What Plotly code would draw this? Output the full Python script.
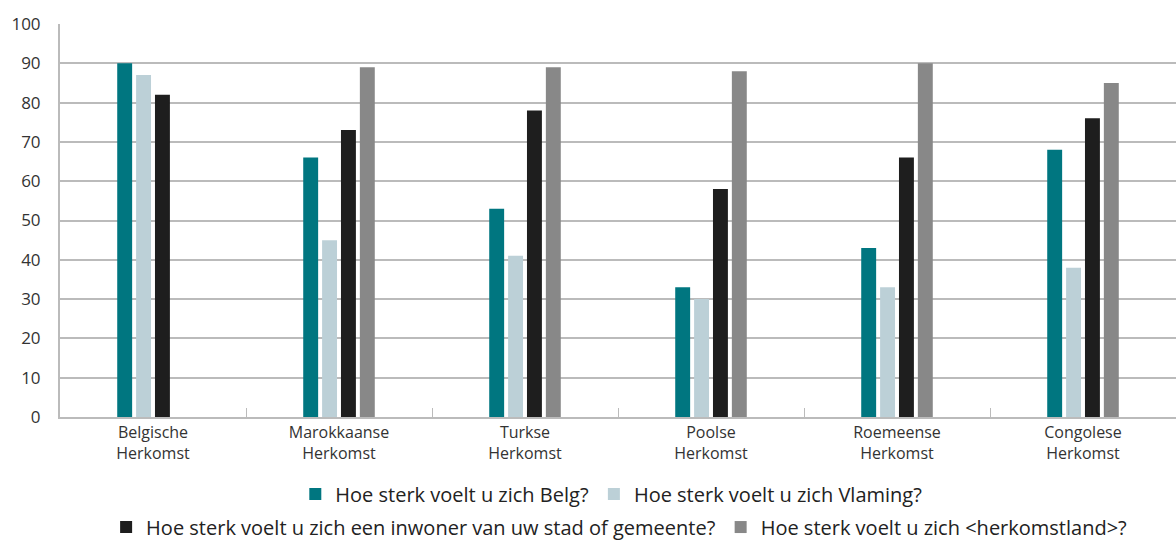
import plotly.graph_objects as go

categories = ["Belgische<br>Herkomst", "Marokkaanse<br>Herkomst", "Turkse<br>Herkomst",
              "Poolse<br>Herkomst", "Roemeense<br>Herkomst", "Congolese<br>Herkomst"]
belg = [90, 66, 53, 33, 43, 68]
vlaming = [87, 45, 41, 30, 33, 38]
stad = [82, 73, 78, 58, 66, 76]
herkomstland = [None, 89, 89, 88, 90, 85]

series_names = ["Hoe sterk voelt u zich Belg?", "Hoe sterk voelt u zich Vlaming?",
                "Hoe sterk voelt u zich een inwoner van uw stad of gemeente?",
                "Hoe sterk voelt u zich <herkomstland>?"]
colors = ["#007680", "#BCD0D7", "#1E1E1E", "#888888"]
legends = ["legend", "legend", "legend2", "legend2"]

FONT = "Open Sans, sans-serif"

fig = go.Figure()
for name, vals, col, lg in zip(series_names, [belg, vlaming, stad, herkomstland], colors, legends):
    fig.add_trace(go.Bar(x=categories, y=vals, name=name, marker_color=col,
                         marker_line_width=0, legend=lg))

fig.update_layout(
    width=1176, height=540,
    margin=dict(l=60, r=0, t=24, b=123, autoexpand=False),
    plot_bgcolor="white", paper_bgcolor="white",
    barmode="group", bargap=0.594, bargroupgap=0.21,
    font=dict(family=FONT, color="#333333", size=17),
    showlegend=True,
    legend=dict(orientation="h", x=0.494, xanchor="center", y=-0.196, yanchor="middle",
                font=dict(size=20, color="#222222"), traceorder="normal"),
    legend2=dict(orientation="h", x=0.501, xanchor="center", y=-0.28, yanchor="middle",
                 font=dict(size=20, color="#222222"), traceorder="normal"),
)
fig.update_yaxes(range=[0, 100], dtick=10, showgrid=True, gridcolor="#BBBBBB", gridwidth=2,
                 showline=True, linecolor="#BBBBBB", linewidth=2, zeroline=False,
                 tickfont=dict(size=17, color="#333333"), ticks="", ticklabelstandoff=14,
                 automargin=False)
fig.update_xaxes(showline=True, linecolor="#BBBBBB", linewidth=2, tickson="boundaries",
                 ticks="inside", ticklen=9, tickcolor="#BBBBBB", tickwidth=1,
                 tickfont=dict(size=16, color="#333333"), automargin=False)

fig.write_html("out.html", config={"displayModeBar": False},
               post_script="document.body.style.margin='0';")
